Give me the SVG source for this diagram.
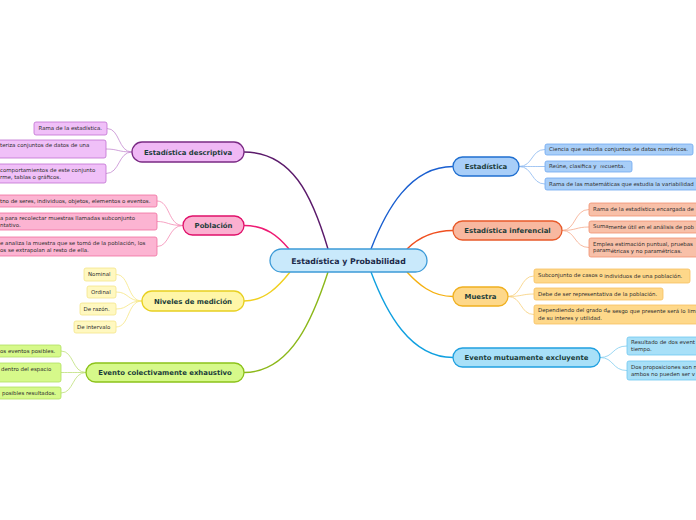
<svg xmlns="http://www.w3.org/2000/svg" width="696" height="520" viewBox="0 0 696 520">
<style>
.main{stroke-width:1.3}
.mt{font-family:"DejaVu Sans",Verdana,sans-serif;font-weight:bold;font-size:6.9px;fill:#1b3d3a;text-anchor:middle}
.ct{font-family:"DejaVu Sans",Verdana,sans-serif;font-weight:bold;font-size:7.8px;fill:#1c2a4a;text-anchor:middle}
.st{font-family:"DejaVu Sans",Verdana,sans-serif;font-size:5.45px;fill:#2e2e2e}
.sm{font-size:4.5px}
.cn{fill:none;stroke-width:1.4}
.cc{fill:none;stroke-width:0.8}
.c{stroke-width:0.8}
</style>
<rect width="696" height="520" fill="#ffffff"/>
<g id="connectors">
<path class="cn" stroke="#5b1a6b" d="M244,152 C292,152 312,195 328,249"/>
<path class="cn" stroke="#ee1a73" d="M244,225.5 C266,225.5 278,236 289,249"/>
<path class="cn" stroke="#f0d020" d="M244,301 C265,301 279,286 290,272"/>
<path class="cn" stroke="#8cb81a" d="M244,372.5 C292,372.5 314,315 328,272"/>
<path class="cn" stroke="#1a5fd0" d="M453,166.5 C410,166.5 386,210 371,249"/>
<path class="cn" stroke="#f05020" d="M453,230.5 C432,230.5 418,238 407,249"/>
<path class="cn" stroke="#f5b010" d="M453,296.5 C432,296.5 418,284 407,272"/>
<path class="cn" stroke="#10a0e0" d="M453,357.5 C410,357.5 386,312 371,272"/>
<g stroke="#c48ad0">
<path class="cc" d="M132,152 C118,152 120,128.5 107,128.5"/>
<path class="cc" d="M132,152 C118,152 118,149 106,149"/>
<path class="cc" d="M132,152 C118,152 120,173.5 106,173.5"/>
</g>
<g stroke="#f48ab4">
<path class="cc" d="M183,225.5 C168,225.5 170,201 157,201"/>
<path class="cc" d="M183,225.5 C168,225.5 168,221.5 157,221.5"/>
<path class="cc" d="M183,225.5 C168,225.5 170,246.5 157,246.5"/>
</g>
<g stroke="#f6e682">
<path class="cc" d="M142,301 C127,301 130,274.5 116,274.5"/>
<path class="cc" d="M142,301 C127,301 129,292 116,292"/>
<path class="cc" d="M142,301 C127,301 129,309 116,309"/>
<path class="cc" d="M142,301 C127,301 130,327 116,327"/>
</g>
<g stroke="#bedf78">
<path class="cc" d="M86,372.5 C72,372.5 74,351 61,351"/>
<path class="cc" d="M86,372.5 C72,372.5 72,372.5 61,372.5"/>
<path class="cc" d="M86,372.5 C72,372.5 74,393 61,393"/>
</g>
<g stroke="#8ab8f0">
<path class="cc" d="M519,166.5 C533,166.5 531,149.5 545,149.5"/>
<path class="cc" d="M519,166.5 C533,166.5 533,166.5 545,166.5"/>
<path class="cc" d="M519,166.5 C533,166.5 531,184 545,184"/>
</g>
<g stroke="#f5a88a">
<path class="cc" d="M562,230.5 C576,230.5 574,209.5 589,209.5"/>
<path class="cc" d="M562,230.5 C576,230.5 576,227 589,227"/>
<path class="cc" d="M562,230.5 C576,230.5 574,247.5 589,247.5"/>
</g>
<g stroke="#f8cf78">
<path class="cc" d="M508,296.5 C522,296.5 520,276 534,276"/>
<path class="cc" d="M508,296.5 C522,296.5 522,294 534,294"/>
<path class="cc" d="M508,296.5 C522,296.5 520,314.5 534,314.5"/>
</g>
<g stroke="#80cdf0">
<path class="cc" d="M600,357.5 C614,357.5 612,346 627,346"/>
<path class="cc" d="M600,357.5 C614,357.5 612,370.5 627,370.5"/>
</g>
</g>
<g id="center">
<rect x="270" y="249" width="157" height="23" rx="11.5" fill="#c9e9fb" stroke="#3d9bd8" class="main"/>
<text class="ct" x="348.5" y="263.5">Estadística y Probabilidad</text>
</g>
<g id="descriptiva">
<rect x="132" y="142" width="112" height="20" rx="10" fill="#f0b8f5" stroke="#7a2a84" class="main"/>
<text class="mt" x="188" y="154.5">Estadística descriptiva</text>
<rect x="34" y="122" width="73" height="13" rx="2" fill="#f0c0f8" stroke="#c070d0" class="c"/>
<text class="st" x="38.5" y="130.4">Rama de la estadística.</text>
<rect x="-10" y="140" width="116" height="18" rx="2" fill="#f0c0f8" stroke="#c070d0" class="c"/>
<text class="st" x="0" y="147.4">teriza conjuntos de datos de una</text>
<rect x="-10" y="164" width="116" height="19" rx="2" fill="#f0c0f8" stroke="#c070d0" class="c"/>
<text class="st" x="0" y="171.6">comportamientos de este conjunto</text>
<text class="st" x="0" y="178.6">rme, tablas o gráficos.</text>
</g>
<g id="poblacion">
<rect x="183" y="216" width="61" height="19" rx="9.5" fill="#fbb0d0" stroke="#e0106a" class="main"/>
<text class="mt" x="213.5" y="228">Población</text>
<rect x="-10" y="195" width="167" height="12" rx="2" fill="#fcb4d2" stroke="#f070a0" class="c"/>
<text class="st" x="0" y="202.9">tno de seres, individuos, objetos, elementos o eventos.</text>
<rect x="-10" y="213" width="167" height="17" rx="2" fill="#fcb4d2" stroke="#f070a0" class="c"/>
<text class="st" x="0" y="220.2">a para recolectar muestras llamadas subconjunto</text>
<text class="st" x="0" y="227.2">ntativo.</text>
<rect x="-10" y="237" width="167" height="19" rx="2" fill="#fcb4d2" stroke="#f070a0" class="c"/>
<text class="st" x="0" y="244.6">e analiza la muestra que se tomó de la población, los</text>
<text class="st" x="0" y="251.6">os se extrapolan al resto de ella.</text>
</g>
<g id="niveles">
<rect x="142" y="291" width="102" height="20" rx="10" fill="#fff6a8" stroke="#e8d020" class="main"/>
<text class="mt" x="193" y="303.5">Niveles de medición</text>
<rect x="84" y="268" width="32" height="13" rx="2" fill="#fff8c0" stroke="#f4e48a" class="c"/>
<text class="st" x="88" y="276.4">Nominal</text>
<rect x="87" y="286" width="29" height="12" rx="2" fill="#fff8c0" stroke="#f4e48a" class="c"/>
<text class="st" x="91" y="293.9">Ordinal</text>
<rect x="80" y="303" width="36" height="12" rx="2" fill="#fff8c0" stroke="#f4e48a" class="c"/>
<text class="st" x="83.5" y="310.9">De razón.</text>
<rect x="74" y="321" width="42" height="12" rx="2" fill="#fff8c0" stroke="#f4e48a" class="c"/>
<text class="st" x="77" y="328.9">De intervalo</text>
</g>
<g id="colectivo">
<rect x="86" y="363" width="158" height="19" rx="9.5" fill="#d6f98a" stroke="#8cc21a" class="main"/>
<text class="mt" x="165" y="375.3">Evento colectivamente exhaustivo</text>
<rect x="-10" y="345" width="71" height="12" rx="2" fill="#d6f98a" stroke="#b0e060" class="c"/>
<text class="st" x="0" y="352.9">os eventos posibles.</text>
<rect x="-10" y="363" width="71" height="19" rx="2" fill="#d6f98a" stroke="#b0e060" class="c"/>
<text class="st" x="1" y="370.6">dentro del espacio</text>
<rect x="-10" y="387" width="71" height="12" rx="2" fill="#d6f98a" stroke="#b0e060" class="c"/>
<text class="st" x="2" y="394.9">posibles resultados.</text>
</g>
<g id="estadistica">
<rect x="453" y="157" width="66" height="19" rx="9.5" fill="#a8cef8" stroke="#1f6fd0" class="main"/>
<text class="mt" x="486" y="169.3">Estadística</text>
<rect x="545" y="144" width="148" height="11" rx="2" fill="#a8cef8" stroke="#70a8f0" class="c"/>
<text class="st" x="549" y="151.4">Ciencia que estudia conjuntos de datos numéricos.</text>
<rect x="545" y="161" width="87" height="11" rx="2" fill="#a8cef8" stroke="#70a8f0" class="c"/>
<text class="st" x="549" y="168.4">Reúne, clasifica y <tspan class="sm" dx="2" dy="-0.8">re</tspan><tspan dy="0.8">cuenta.</tspan></text>
<rect x="545" y="178" width="160" height="12" rx="2" fill="#a8cef8" stroke="#70a8f0" class="c"/>
<text class="st" x="549" y="185.9">Rama de las matemáticas que estudia la variabilidad</text>
</g>
<g id="inferencial">
<rect x="453" y="221" width="109" height="19" rx="9.5" fill="#f8b8a0" stroke="#e85a2a" class="main"/>
<text class="mt" x="507.5" y="233.3">Estadística inferencial</text>
<rect x="589" y="203" width="120" height="13" rx="2" fill="#f8c0a8" stroke="#f09070" class="c"/>
<text class="st" x="593" y="211.4">Rama de la estadística encargada de</text>
<rect x="589" y="221" width="120" height="12" rx="2" fill="#f8c0a8" stroke="#f09070" class="c"/>
<text class="st" x="593" y="227.6">Suma<tspan dy="1.3">mente útil en el análisis de pob</tspan></text>
<rect x="589" y="238" width="120" height="19" rx="2" fill="#f8c0a8" stroke="#f09070" class="c"/>
<text class="st" x="593" y="245.6">Emplea estimación puntual, pruebas</text>
<text class="st" x="593" y="251.6">param<tspan dy="1.3">étricas y no paramétricas.</tspan></text>
</g>
<g id="muestra">
<rect x="453" y="287" width="55" height="19" rx="9.5" fill="#fed88a" stroke="#f0b020" class="main"/>
<text class="mt" x="480.5" y="299.3">Muestra</text>
<rect x="534" y="269" width="156" height="14" rx="2" fill="#fed88a" stroke="#f8c060" class="c"/>
<text class="st" x="538" y="276.6">Subconjunto de casos o <tspan dy="1">individuos de una población.</tspan></text>
<rect x="534" y="288" width="129" height="12" rx="2" fill="#fed88a" stroke="#f8c060" class="c"/>
<text class="st" x="538" y="295.9">Debe de ser representativa de la población.</text>
<rect x="534" y="305" width="170" height="19" rx="2" fill="#fed88a" stroke="#f8c060" class="c"/>
<text class="st" x="538" y="312.1">Dependiendo del grado d<tspan dy="0.8">e sesgo que presente será lo lim</tspan></text>
<text class="st" x="538" y="319.6">de su interes y utilidad.</text>
</g>
<g id="mutuo">
<rect x="453" y="348" width="147" height="19" rx="9.5" fill="#a8e0f8" stroke="#20a0e0" class="main"/>
<text class="mt" x="526.5" y="360.3">Evento mutuamente excluyente</text>
<rect x="627" y="337" width="80" height="18" rx="2" fill="#a8e0f8" stroke="#70c8f0" class="c"/>
<text class="st" x="631" y="344.1">Resultado de dos event</text>
<text class="st" x="631" y="351.1">tiempo.</text>
<rect x="627" y="361" width="80" height="19" rx="2" fill="#a8e0f8" stroke="#70c8f0" class="c"/>
<text class="st" x="631" y="368.6">Dos proposiciones son m</text>
<text class="st" x="631" y="375.6">ambos no pueden ser v</text>
</g>
</svg>
